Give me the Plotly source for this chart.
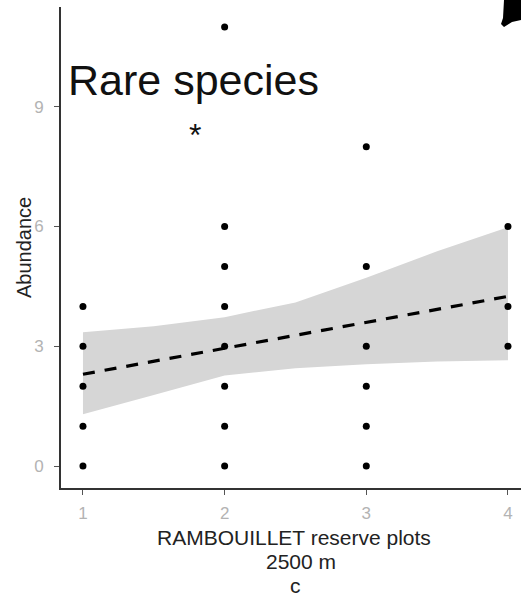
import plotly.graph_objects as go

# Data
plot_x = [1, 1, 1, 1, 1,
          2, 2, 2, 2, 2, 2, 2, 2,
          3, 3, 3, 3, 3, 3,
          4, 4, 4]
abundance = [0, 1, 2, 3, 4,
             0, 1, 2, 3, 4, 5, 6, 11,
             0, 1, 2, 3, 5, 8,
             3, 4, 6]
fit_x = [1, 4]
fit_y = [2.3, 4.25]
band_x = [1, 1.5, 2, 2.5, 3, 3.5, 4]
band_lower = [1.3, 1.78, 2.27, 2.45, 2.55, 2.62, 2.65]
band_upper = [3.35, 3.5, 3.73, 4.1, 4.72, 5.38, 5.98]
x_ticks = [1, 2, 3, 4]
y_ticks = [0, 3, 6, 9]

W, H = 521, 596
ML, MR, MT, MB = 61, 0, 7, 108
pw, ph = W - ML - MR, H - MT - MB

def px(xp):
    return (xp - ML) / pw

def py(yp):
    return (H - MB - yp) / ph

fig = go.Figure()
fig.add_trace(go.Scatter(
    x=band_x + band_x[::-1], y=band_upper + band_lower[::-1],
    fill="toself", fillcolor="#d6d6d6", line=dict(width=0),
    mode="lines", hoverinfo="skip", showlegend=False))
fig.add_trace(go.Scatter(
    x=plot_x, y=abundance, mode="markers",
    marker=dict(color="black", size=7), showlegend=False))
fig.add_trace(go.Scatter(
    x=fit_x, y=fit_y, mode="lines",
    line=dict(color="black", width=3.2, dash="12px,10px"), showlegend=False))

axis_font = dict(family="Liberation Sans, Arial, sans-serif", size=17, color="#b3b3b3")
fig.update_xaxes(range=[0.845, 4.092], tickvals=x_ticks, ticks="outside", ticklen=5,
                 tickcolor="#555", tickwidth=1, showline=True, linecolor="#333",
                 linewidth=2, showgrid=False, zeroline=False, tickfont=axis_font,
                 ticklabelstandoff=4)
fig.update_yaxes(range=[-0.55, 11.5], tickvals=y_ticks, ticks="outside", ticklen=5,
                 tickcolor="#555", tickwidth=1, showline=True, linecolor="#333",
                 linewidth=2, showgrid=False, zeroline=False, tickfont=axis_font,
                 ticklabelstandoff=7)

txt = dict(family="Liberation Sans, Arial, sans-serif", color="#222")
ann = [
    dict(text="Rare species", x=px(66), y=py(80), xref="paper", yref="paper",
         xanchor="left", yanchor="middle", showarrow=False,
         font=dict(txt, size=43, color="#111")),
    dict(text="*", x=1.79, y=8.3, xref="x", yref="y", showarrow=False,
         xanchor="center", yanchor="middle",
         font=dict(txt, size=32, color="#111")),
    dict(text="Abundance", x=px(24), y=py(248), xref="paper", yref="paper",
         xanchor="center", yanchor="middle",
         textangle=-90, showarrow=False, font=dict(txt, size=20)),
    dict(text="RAMBOUILLET reserve plots", x=px(294), y=py(537), xref="paper", yref="paper",
         xanchor="center", yanchor="middle", showarrow=False, font=dict(txt, size=21)),
    dict(text="2500 m", x=px(301), y=py(561), xref="paper", yref="paper",
         xanchor="center", yanchor="middle", showarrow=False, font=dict(txt, size=21)),
    dict(text="c", x=px(295), y=py(585), xref="paper", yref="paper",
         xanchor="center", yanchor="middle", showarrow=False, font=dict(txt, size=21)),
]

blob = "M {} {} L {} {} L {} {} L {} {} L {} {} L {} {} L {} {} Z".format(
    px(504), py(0), px(521), py(0), px(521), py(20), px(512), py(22),
    px(504), py(27), px(501), py(24), px(503), py(18))

fig.update_layout(
    width=W, height=H, margin=dict(l=ML, r=MR, t=MT, b=MB),
    plot_bgcolor="white", paper_bgcolor="white", annotations=ann,
    shapes=[dict(type="path", path=blob, xref="paper", yref="paper",
                 fillcolor="black", line=dict(width=0))])

fig.write_html("out.html", config={"displayModeBar": False},
               post_script="document.body.style.margin='0';document.body.style.overflow='hidden';")
